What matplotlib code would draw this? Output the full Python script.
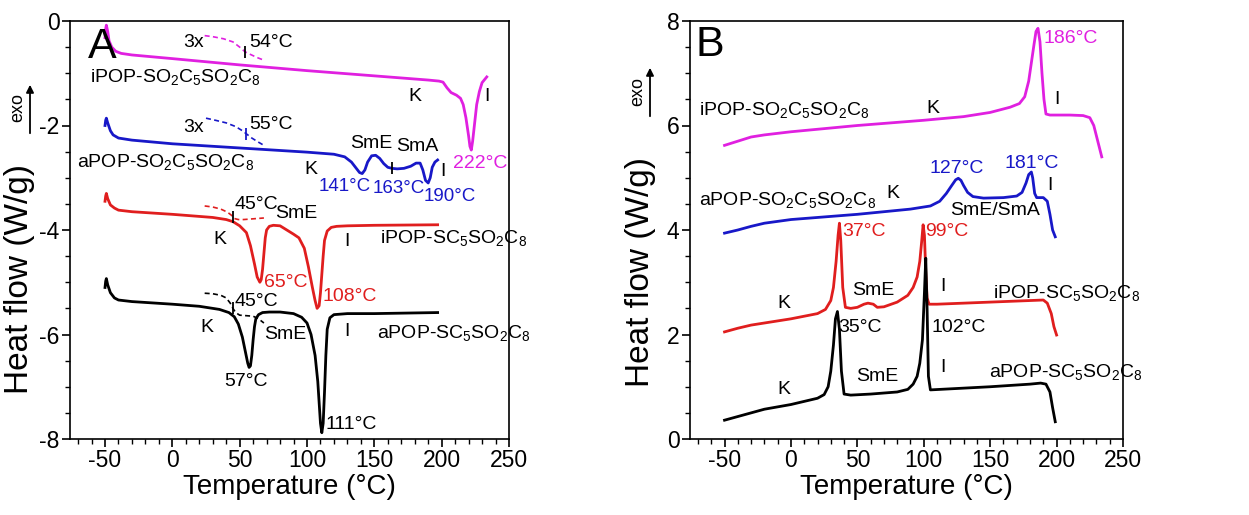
import numpy as np
import matplotlib
matplotlib.use("Agg")
import matplotlib.pyplot as plt
from matplotlib.patches import FancyArrowPatch

plt.rcParams['font.family'] = ['Liberation Sans', 'DejaVu Sans']
plt.rcParams['mathtext.fontset'] = 'custom'
plt.rcParams['mathtext.rm'] = 'Liberation Sans'
plt.rcParams['mathtext.it'] = 'Liberation Sans'
plt.rcParams['mathtext.default'] = 'regular'
plt.rcParams['axes.unicode_minus'] = False

MAG = '#E020E0'
BLU = '#1818C8'
RED = '#E01E1E'
BLK = '#000000'

# ---------------- Panel A (heating) ----------------
a_mag_x = [-50, -49.5, -49, -48, -47, -45, -42, -38, -30, 0, 50, 100, 150, 190, 198, 201, 204, 207, 211, 214, 216, 218, 220, 221, 222, 223, 224.5, 226, 228, 230, 233.5]
a_mag_y = [-0.32, -0.15, -0.08, -0.2, -0.38, -0.5, -0.58, -0.62, -0.65, -0.72, -0.84, -0.95, -1.05, -1.13, -1.15, -1.17, -1.28, -1.37, -1.42, -1.48, -1.6, -1.85, -2.2, -2.4, -2.47, -2.3, -1.95, -1.6, -1.35, -1.18, -1.07]

a_blu_x = [-50, -49.5, -49, -48, -46, -44, -40, -30, 0, 50, 100, 120, 128, 133, 136, 139, 141, 143, 145, 148, 151, 154, 157, 160, 163, 167, 172, 177, 181, 184, 186, 188, 190, 191.5, 193, 195, 197]
a_blu_y = [-2.0, -1.9, -1.86, -1.95, -2.1, -2.18, -2.24, -2.28, -2.35, -2.43, -2.51, -2.55, -2.6, -2.7, -2.8, -2.9, -2.92, -2.85, -2.7, -2.58, -2.57, -2.63, -2.73, -2.8, -2.82, -2.83, -2.82, -2.78, -2.72, -2.72, -2.85, -3.05, -3.1, -3.0, -2.8, -2.7, -2.66]

a_red_x = [-50, -49.5, -49, -48, -46, -43, -40, -30, 0, 30, 40, 45, 50, 55, 58, 61, 63, 65, 66, 67, 68, 69, 70, 72, 75, 80, 85, 90, 94, 98, 101, 104, 106, 107.5, 109, 110, 111, 112, 113, 115, 118, 122, 130, 150, 197]
a_red_y = [-3.45, -3.35, -3.3, -3.4, -3.52, -3.58, -3.62, -3.65, -3.7, -3.76, -3.8, -3.84, -3.92, -4.05, -4.3, -4.65, -4.9, -5.0, -4.95, -4.75, -4.45, -4.15, -4.0, -3.93, -3.91, -3.92, -4.0, -4.08, -4.15, -4.35, -4.7, -5.1, -5.35, -5.5, -5.45, -5.2, -4.85, -4.5, -4.2, -4.02, -3.95, -3.93, -3.92, -3.91, -3.9]

a_blk_x = [-50, -49.5, -49, -48, -46, -43, -40, -30, 0, 20, 35, 42, 46, 49, 52, 54, 56, 57, 58, 59, 60, 61, 62, 64, 67, 72, 80, 90, 96, 100, 103, 106, 108, 109, 110, 111, 112, 113, 114, 115, 117, 120, 130, 150, 197]
a_blk_y = [-5.1, -4.98, -4.93, -5.05, -5.2, -5.3, -5.34, -5.37, -5.42, -5.46, -5.52, -5.58, -5.66, -5.8, -6.05, -6.3, -6.55, -6.63, -6.6, -6.4, -6.1, -5.85, -5.7, -5.62, -5.58, -5.57, -5.57, -5.6, -5.67, -5.78, -6.0, -6.4, -6.9, -7.3, -7.7, -7.88, -7.7, -7.1, -6.4, -5.9, -5.68, -5.62, -5.6, -5.6, -5.58]

# magnified (3x) glass-transition segments, dashed
a_mag_d_x = [24, 30, 38, 45, 50, 54, 58, 63, 68]
a_mag_d_y = [-0.28, -0.3, -0.34, -0.4, -0.5, -0.59, -0.64, -0.7, -0.75]
a_blu_d_x = [25, 32, 40, 47, 52, 55, 59, 64, 68]
a_blu_d_y = [-1.86, -1.9, -1.95, -2.02, -2.1, -2.16, -2.24, -2.32, -2.38]
a_red_d_x = [24, 30, 36, 41, 44, 46, 49, 53, 58, 63, 68]
a_red_d_y = [-3.54, -3.56, -3.6, -3.66, -3.72, -3.78, -3.8, -3.8, -3.79, -3.78, -3.77]
a_blk_d_x = [24, 30, 36, 40, 43, 45, 47, 50, 55, 60, 64, 68]
a_blk_d_y = [-5.21, -5.22, -5.25, -5.3, -5.4, -5.5, -5.58, -5.63, -5.64, -5.65, -5.7, -5.78]

tg_mag, tg_blu, tg_red, tg_blk = 54, 55, 45, 45
t_blu_smA = 163

# ---------------- Panel B (cooling) ----------------
b_mag_x = [-50, -40, -30, -20, 0, 50, 100, 130, 150, 165, 172, 176, 179, 181, 183, 184.5, 186, 187.5, 189, 190.5, 192, 195, 200, 210, 220, 225, 228, 231, 234]
b_mag_y = [5.62, 5.7, 5.78, 5.82, 5.88, 6.0, 6.1, 6.17, 6.25, 6.35, 6.42, 6.55, 6.85, 7.2, 7.55, 7.8, 7.86, 7.6, 7.0, 6.5, 6.22, 6.2, 6.2, 6.2, 6.19, 6.15, 6.0, 5.7, 5.4]

b_blu_x = [-50, -40, -30, -20, 0, 50, 90, 105, 112, 117, 121, 124, 126, 128, 130, 133, 137, 145, 160, 170, 174, 177, 179, 181, 182, 183.5, 185, 190, 193, 195, 197, 199]
b_blu_y = [3.94, 4.0, 4.07, 4.13, 4.2, 4.3, 4.4, 4.46, 4.55, 4.7, 4.85, 4.96, 4.99, 4.95, 4.85, 4.72, 4.64, 4.61, 4.62, 4.65, 4.72, 4.9, 5.06, 5.11, 5.0, 4.7, 4.62, 4.62, 4.55, 4.3, 4.0, 3.87]

b_red_x = [-50, -40, -30, -20, 0, 20, 26, 30, 32, 34, 35.5, 36.5, 37.5, 39, 41, 45, 50, 55, 58, 62, 65, 70, 80, 88, 92, 95, 97, 98.5, 99.5, 100.5, 101.5, 102.5, 104, 110, 130, 160, 190, 193, 196, 198, 200]
b_red_y = [2.05, 2.12, 2.18, 2.22, 2.3, 2.4, 2.48, 2.65, 2.9, 3.4, 3.9, 4.13, 3.8, 2.9, 2.52, 2.5, 2.52, 2.58, 2.6, 2.58, 2.52, 2.53, 2.62, 2.75, 2.9, 3.1, 3.4, 3.8, 4.1, 3.9, 3.2, 2.7, 2.58, 2.58, 2.6, 2.63, 2.66, 2.6, 2.4, 2.15, 1.99]

b_blk_x = [-50, -40, -30, -20, 0, 20, 25, 28, 30, 32, 33.5, 35, 36.5, 38, 40, 45, 60, 80, 88, 92, 95, 97, 99, 100.5, 101.5, 102.5, 103.5, 105, 120, 150, 180, 188, 192, 195, 197, 199]
b_blk_y = [0.36, 0.43, 0.5, 0.57, 0.66, 0.78, 0.85, 1.0, 1.3, 1.8, 2.3, 2.44, 2.1, 1.3, 0.86, 0.84, 0.86, 0.9, 0.95, 1.05, 1.2, 1.45, 1.9, 2.8, 3.46, 2.5, 1.2, 0.94, 0.96, 1.0, 1.05, 1.07, 1.05, 0.9, 0.6, 0.33]

x_major = [-50, 0, 50, 100, 150, 200, 250]
a_yticks = [0, -2, -4, -6, -8]
b_yticks = [0, 2, 4, 6, 8]

W, H = 1249, 515
fig = plt.figure(figsize=(W / 100, H / 100), dpi=100)
axA = fig.add_axes([70 / W, 1 - 439 / H, (509 - 70) / W, (439 - 21) / H])
axB = fig.add_axes([690 / W, 1 - 439 / H, (1123 - 690) / W, (439 - 21) / H])

LW = 2.0
axA.plot(a_mag_x, a_mag_y, color=MAG, lw=LW)
axA.plot(a_blu_x, a_blu_y, color=BLU, lw=LW)
axA.plot(a_red_x, a_red_y, color=RED, lw=LW)
axA.plot(a_blk_x, a_blk_y, color=BLK, lw=LW)
for dx, dy, c, tg in [(a_mag_d_x, a_mag_d_y, MAG, tg_mag), (a_blu_d_x, a_blu_d_y, BLU, tg_blu),
                      (a_red_d_x, a_red_d_y, RED, tg_red), (a_blk_d_x, a_blk_d_y, BLK, tg_blk)]:
    axA.plot(dx, dy, color=c, lw=1.2, ls=(0, (3, 2)))
    axA.plot([tg], [np.interp(tg, dx, dy)], marker='|', ms=8, mew=1.3, color='k' if c != BLU else BLU)
axA.plot([t_blu_smA], [np.interp(t_blu_smA, a_blu_x, a_blu_y)], marker='|', ms=8, mew=1.3, color=BLK)

axB.plot(b_mag_x, b_mag_y, color=MAG, lw=LW)
axB.plot(b_blu_x, b_blu_y, color=BLU, lw=LW)
axB.plot(b_red_x, b_red_y, color=RED, lw=LW)
axB.plot(b_blk_x, b_blk_y, color=BLK, lw=LW)

for ax, yt, ylim in [(axA, a_yticks, (-8, 0)), (axB, b_yticks, (0, 8))]:
    ax.set_xlim(-76, 250)
    ax.set_ylim(*ylim)
    ax.set_xticks(x_major)
    ax.set_xticks(np.arange(-70, 251, 10), minor=True)
    ax.set_yticks(yt)
    ax.set_yticks(np.arange(ylim[0], ylim[1] + 0.01, 0.5), minor=True)
    ax.tick_params(which='major', direction='out', length=6, width=1.2, labelsize=16.5, pad=1.5)
    ax.tick_params(which='minor', direction='out', length=3.5, width=1.0)
    for s in ax.spines.values():
        s.set_linewidth(1.2)
    ax.set_xlabel('Temperature (°C)', fontsize=20, labelpad=1)

# y labels with exo arrows
for xc, yc, ex, ey, ax_, ay0, ay1 in [(20, 279, 18, 108, 30, 136, 82), (640, 272, 638, 92, 650, 119, 65)]:
    fig.text(xc / W, 1 - yc / H, 'Heat flow (W/g)', rotation=90, ha='center', va='center',
             fontsize=24)
    fig.text(ex / W, 1 - ey / H, 'exo', rotation=90, ha='center', va='center', fontsize=13)
    fig.add_artist(FancyArrowPatch((ax_ / W, 1 - ay0 / H), (ax_ / W, 1 - ay1 / H),
                                   transform=fig.transFigure, arrowstyle='-|>',
                                   mutation_scale=11, lw=1.3, color='k'))

FS = 14
def t(ax, x, y, s, c='k', ha='left', fs=FS, va='center'):
    ax.text(x, y, s, color=c, ha=ha, va=va, fontsize=fs)

# Panel A texts
t(axA, -63, -0.5, 'A', fs=31)
t(axA, -61, -1.07, r'iPOP-SO$_2$C$_5$SO$_2$C$_8$')
t(axA, 15.5, -0.42, '3x', ha='center')
t(axA, 57, -0.42, '54°C')
t(axA, 180, -1.45, 'K', ha='center')
t(axA, 233.7, -1.45, 'I', ha='center')
t(axA, 228.5, -2.72, '222°C', c=MAG, ha='center')
t(axA, 15.5, -2.03, '3x', ha='center')
t(axA, 57, -1.99, '55°C')
t(axA, -71, -2.7, r'aPOP-SO$_2$C$_5$SO$_2$C$_8$')
t(axA, 103, -2.85, 'K', ha='center')
t(axA, 148, -2.34, 'SmE', ha='center')
t(axA, 182, -2.41, 'SmA', ha='center')
t(axA, 128, -3.17, '141°C', c=BLU, ha='center', fs=13.5)
t(axA, 168, -3.2, '163°C', c=BLU, ha='center', fs=13.5)
t(axA, 206, -3.36, '190°C', c=BLU, ha='center', fs=13.5)
t(axA, 201, -2.88, 'I', ha='center')
t(axA, 46, -3.52, '45°C')
t(axA, 76, -3.68, 'SmE')
t(axA, 35, -4.19, 'K', ha='center')
t(axA, 129.5, -4.22, 'I', ha='center')
t(axA, 154, -4.16, r'iPOP-SC$_5$SO$_2$C$_8$')
t(axA, 68.4, -5.0, '65°C', c=RED)
t(axA, 111.6, -5.28, '108°C', c=RED)
t(axA, 46, -5.37, '45°C')
t(axA, 26, -5.87, 'K', ha='center')
t(axA, 68, -6.0, 'SmE')
t(axA, 129.5, -5.95, 'I', ha='center')
t(axA, 151.8, -5.98, r'aPOP-SC$_5$SO$_2$C$_8$')
t(axA, 55, -6.9, '57°C', ha='center')
t(axA, 114, -7.72, '111°C')

# Panel B texts
t(axB, -72, 7.55, 'B', fs=31)
t(axB, -69.5, 6.3, r'iPOP-SO$_2$C$_5$SO$_2$C$_8$')
t(axB, 107, 6.33, 'K', ha='center')
t(axB, 200, 6.49, 'I', ha='center')
t(axB, 190, 7.67, '186°C', c=MAG)
t(axB, -69.5, 4.57, r'aPOP-SO$_2$C$_5$SO$_2$C$_8$')
t(axB, 77, 4.7, 'K', ha='center')
t(axB, 125, 5.18, '127°C', c=BLU, ha='center')
t(axB, 181.6, 5.28, '181°C', c=BLU, ha='center')
t(axB, 195, 4.86, 'I', ha='center')
t(axB, 153.7, 4.38, 'SmE/SmA', ha='center')
t(axB, 38.7, 3.97, '37°C', c=RED)
t(axB, 101, 3.97, '99°C', c=RED)
t(axB, -5.6, 2.6, 'K', ha='center')
t(axB, 62, 2.85, 'SmE', ha='center')
t(axB, 114.7, 2.91, 'I', ha='center')
t(axB, 152, 2.79, r'iPOP-SC$_5$SO$_2$C$_8$')
t(axB, 35.7, 2.14, '35°C')
t(axB, 106, 2.14, '102°C')
t(axB, -5.6, 0.94, 'K', ha='center')
t(axB, 65, 1.19, 'SmE', ha='center')
t(axB, 114.7, 1.36, 'I', ha='center')
t(axB, 149, 1.28, r'aPOP-SC$_5$SO$_2$C$_8$')

fig.savefig('out.png', dpi=100)
